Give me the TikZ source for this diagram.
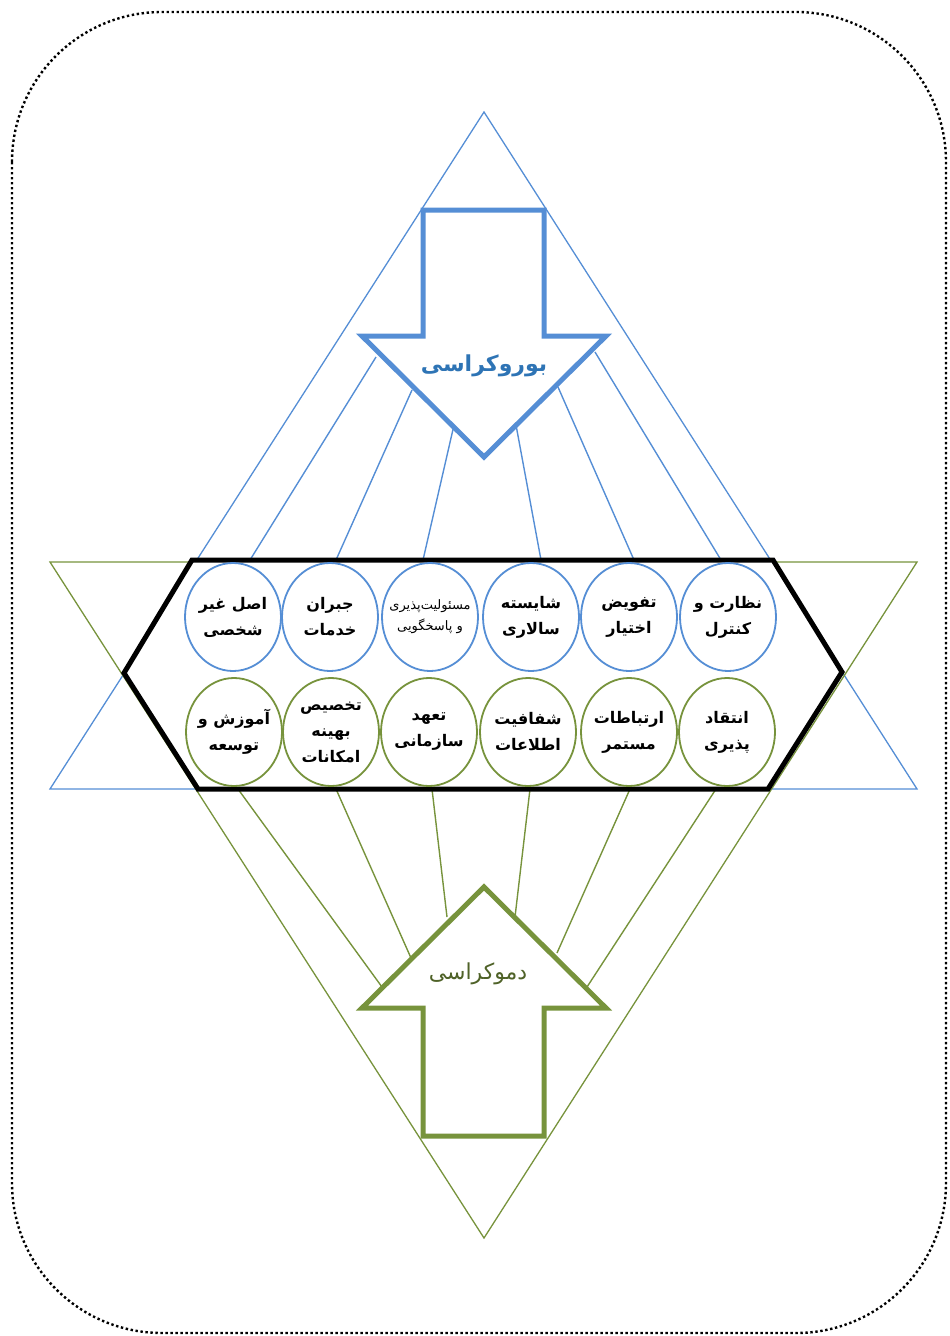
\documentclass[tikz,border=0pt]{standalone}
\usepackage{fontspec}
\usetikzlibrary{shapes.geometric}
\TeXXeTstate=1
\newfontfamily\arabicfont[Script=Arabic]{DejaVu Sans}
\newcommand\fa[1]{\beginR #1\endR}
\definecolor{myblue}{RGB}{85,142,213}
\definecolor{mygreen}{RGB}{119,147,60}
\definecolor{titleblue}{RGB}{46,116,181}
\definecolor{darkgreen}{RGB}{79,98,40}
\begin{document}
\begin{tikzpicture}[x=1pt,y=-1pt,
  tri/.style={line width=1.3pt},
  conn/.style={line width=1.4pt},
  bigarrow/.style={line width=5pt, fill=white, line join=miter},
  bc/.style={ellipse, draw=myblue, line width=1.8pt, minimum width=96pt, minimum height=108pt, inner sep=0pt, fill=white},
  gc/.style={ellipse, draw=mygreen, line width=1.8pt, minimum width=96pt, minimum height=108pt, inner sep=0pt, fill=white},
  txt/.style={align=center, inner sep=0pt, font=\arabicfont\bfseries\fontsize{16}{26}\selectfont},
  smalltxt/.style={align=center, inner sep=0pt, font=\arabicfont\fontsize{13}{21}\selectfont}]
\useasboundingbox (0,0) rectangle (950,1336);
% dotted border
\draw[line width=2.4pt, dash pattern=on 2.4pt off 2.6pt, rounded corners=150pt] (12,12) rectangle (946,1333);
% triangles
\draw[tri, myblue] (484,112) -- (917,789) -- (50,789) -- cycle;
\draw[tri, mygreen] (50,562) -- (917,562) -- (484,1238) -- cycle;
% connector coordinates
\coordinate (ta1) at (376,357); \coordinate (th1) at (250,560);
\coordinate (ta2) at (412,390); \coordinate (th2) at (336,560);
\coordinate (ta3) at (454,425); \coordinate (th3) at (423,560);
\coordinate (ta4) at (516,425); \coordinate (th4) at (541,560);
\coordinate (ta5) at (558,387); \coordinate (th5) at (634,560);
\coordinate (ta6) at (595,352); \coordinate (th6) at (721,560);
\coordinate (bh1) at (238,789); \coordinate (ba1) at (382,987);
\coordinate (bh2) at (336,789); \coordinate (ba2) at (411,958);
\coordinate (bh3) at (432,789); \coordinate (ba3) at (447,917);
\coordinate (bh4) at (530,789); \coordinate (ba4) at (515,917);
\coordinate (bh5) at (630,789); \coordinate (ba5) at (557,953);
\coordinate (bh6) at (716,789); \coordinate (ba6) at (587,987);
\foreach \i in {1,...,6} {
  \draw[conn, myblue] (ta\i) -- (th\i);
  \draw[conn, mygreen] (bh\i) -- (ba\i);
}
% arrows
\draw[bigarrow, draw=myblue] (423,210) -- (544,210) -- (544,336) -- (606,336) -- (484,457) -- (362,336) -- (423,336) -- cycle;
\draw[bigarrow, draw=mygreen] (484,887) -- (606,1008) -- (544,1008) -- (544,1136) -- (423,1136) -- (423,1008) -- (362,1008) -- cycle;
\node[font=\arabicfont\bfseries\fontsize{22}{26}\selectfont, text=titleblue] (up) at (484,366) {\fa{بوروکراسی}};
\node[font=\arabicfont\fontsize{22}{26}\selectfont, text=darkgreen] (down) at (478,974) {\fa{دموکراسی}};
% hexagon
\draw[line width=5pt, fill=white] (192,560) -- (773,560) -- (842,672) -- (768,789) -- (198,789) -- (124,673) -- cycle;
% top circles
\node[bc] (t1) at (233,617) {};
\node[bc] (t2) at (330,617) {};
\node[bc] (t3) at (430,617) {};
\node[bc] (t4) at (531,617) {};
\node[bc] (t5) at (629,617) {};
\node[bc] (t6) at (728,617) {};
\node[txt] at (t1) {\fa{اصل غیر}\\\fa{شخصی}};
\node[txt] at (t2) {\fa{جبران}\\\fa{خدمات}};
\node[smalltxt] at (t3) {\fa{مسئولیت‌پذیری}\\\fa{و پاسخگویی}};
\node[txt] at (t4) {\fa{شایسته}\\\fa{سالاری}};
\node[txt] at (t5) {\fa{تفویض}\\\fa{اختیار}};
\node[txt] at (t6) {\fa{نظارت و}\\\fa{کنترل}};
% bottom circles
\node[gc] (b1) at (234,732) {};
\node[gc] (b2) at (331,732) {};
\node[gc] (b3) at (429,732) {};
\node[gc] (b4) at (528,732) {};
\node[gc] (b5) at (629,732) {};
\node[gc] (b6) at (727,732) {};
\node[txt] at (b1) {\fa{آموزش و}\\\fa{توسعه}};
\node[txt] at (b2) {\fa{تخصیص}\\\fa{بهینه}\\\fa{امکانات}};
\node[txt] at (b3) {\fa{تعهد}\\\fa{سازمانی}};
\node[txt] at (b4) {\fa{شفافیت}\\\fa{اطلاعات}};
\node[txt] at (b5) {\fa{ارتباطات}\\\fa{مستمر}};
\node[txt] at (b6) {\fa{انتقاد}\\\fa{پذیری}};
\end{tikzpicture}
\end{document}
